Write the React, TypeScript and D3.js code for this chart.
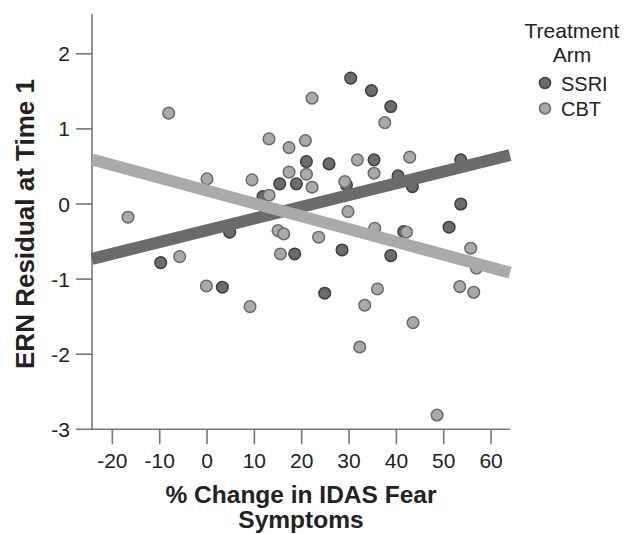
import React from "react";
import * as d3 from "d3";

// ---- data ----
const ssriX = [30.35, 34.73, 38.81, 20.99, 25.77, 35.28, 53.6, 40.35, 43.39, 29.45, 15.35, 18.88, 11.82, 53.6, 4.79, -9.79, 18.52, 3.24, 51.13, 41.55, 28.52, 38.81, 24.86];
const ssriY = [1.676, 1.511, 1.298, 0.565, 0.534, 0.588, 0.588, 0.374, 0.232, 0.254, 0.268, 0.268, 0.099, 0.0, -0.376, -0.781, -0.665, -1.108, -0.309, -0.368, -0.612, -0.687, -1.188];

const cbtX = [-8.1, 13.09, 17.32, 20.78, 22.18, 37.54, -0.01, 9.5, 17.32, 20.99, 22.18, 13.09, -16.7, 14.99, 16.2, -5.78, 15.5, -0.14, 9.08, 31.77, 35.28, 42.82, 29.09, 29.78, 35.43, 42.12, 23.59, 55.71, 56.92, 53.39, 56.34, 36.0, 33.31, 43.52, 32.26, 48.59];
const cbtY = [1.21, 0.867, 0.751, 0.845, 1.41, 1.084, 0.334, 0.321, 0.424, 0.397, 0.224, 0.117, -0.176, -0.354, -0.398, -0.701, -0.665, -1.091, -1.367, 0.588, 0.41, 0.624, 0.298, -0.101, -0.322, -0.376, -0.442, -0.589, -0.855, -1.1, -1.175, -1.131, -1.348, -1.58, -1.904, -2.81];

// fitted lines: [intercept, slope]
const ssriFit = [-0.35, 0.01563];
const cbtFit = [0.178, -0.01706];

const xTicks = [-20, -10, 0, 10, 20, 30, 40, 50, 60];
const yTicks = [-3, -2, -1, 0, 1, 2];
const xExtent = [-24.3, 64];
const yExtent = [-3, 2.53];

const seriesNames = ["SSRI", "CBT"];
const legendTitle = ["Treatment", "Arm"];
const xTitle = ["% Change in IDAS Fear", "Symptoms"];
const yTitle = "ERN Residual at Time 1";

const FONT = "'Liberation Sans', Arial, Helvetica, sans-serif";
const SSRI_FILL = "#6c6c6c";
const SSRI_STROKE = "#3e3e3e";
const CBT_FILL = "#a9a9a9";
const CBT_STROKE = "#6a6a6a";
const SSRI_LINE = "#6b6b6b";
const CBT_LINE = "#aaaaaa";
const AXIS = "#777777";
const TEXT = "#222222";

export default function App() {
  const x = d3.scaleLinear().domain(xExtent).range([92, 510]);
  const y = d3.scaleLinear().domain(yExtent).range([429.3, 14]);
  const x0 = x.range()[0];
  const y0 = y.range()[0];

  const fitLine = (fit: number[]) => {
    const pts: [number, number][] = xExtent.map((v) => [x(v), y(fit[0] + fit[1] * v)]);
    return d3.line()(pts) as string;
  };

  const ssri = ssriX.map((v, i) => ({ x: v, y: ssriY[i] }));
  const cbt = cbtX.map((v, i) => ({ x: v, y: cbtY[i] }));

  return (
    <svg
      width={633}
      height={534}
      style={{ position: "fixed", left: 0, top: 0, background: "#fff" }}
      fontFamily={FONT}
    >
      <rect width={633} height={534} fill="#fff" />
      {/* axes */}
      <line x1={x0} x2={x0} y1={y.range()[1]} y2={y0} stroke={AXIS} strokeWidth={1.6} />
      <line x1={x0} x2={x.range()[1]} y1={y0} y2={y0} stroke={AXIS} strokeWidth={1.6} />
      {yTicks.map((t) => (
        <g key={"y" + t}>
          <line x1={x0 - 16} x2={x0} y1={y(t)} y2={y(t)} stroke={AXIS} strokeWidth={1.6} />
          <text x={70} y={y(t) + 7.5} textAnchor="end" fontSize={21} fill={TEXT}>
            {t}
          </text>
        </g>
      ))}
      {xTicks.map((t) => (
        <g key={"x" + t}>
          <line x1={x(t)} x2={x(t)} y1={y0} y2={y0 + 15} stroke={AXIS} strokeWidth={1.6} />
          <text x={x(t)} y={468} textAnchor="middle" fontSize={21} fill={TEXT}>
            {t}
          </text>
        </g>
      ))}

      {/* points */}
      {ssri.map((d, i) => (
        <circle key={"s" + i} cx={x(d.x)} cy={y(d.y)} r={5.8} fill={SSRI_FILL} stroke={SSRI_STROKE} strokeWidth={1.5} />
      ))}
      {cbt.map((d, i) => (
        <circle key={"c" + i} cx={x(d.x)} cy={y(d.y)} r={5.8} fill={CBT_FILL} stroke={CBT_STROKE} strokeWidth={1.5} />
      ))}

      {/* fit lines */}
      <path d={fitLine(ssriFit)} stroke={SSRI_LINE} strokeWidth={12} fill="none" />
      <path d={fitLine(cbtFit)} stroke={CBT_LINE} strokeWidth={12} fill="none" />

      {/* axis titles */}
      <text x={301} y={503} textAnchor="middle" fontSize={24.5} fontWeight="bold" fill={TEXT}>
        {xTitle[0]}
      </text>
      <text x={301} y={528} textAnchor="middle" fontSize={24.5} fontWeight="bold" fill={TEXT}>
        {xTitle[1]}
      </text>
      <text
        transform="translate(34,224) rotate(-90)"
        textAnchor="middle"
        fontSize={26}
        fontWeight="bold"
        fill={TEXT}
      >
        {yTitle}
      </text>

      {/* legend */}
      <text x={572} y={38} textAnchor="middle" fontSize={21} fill={TEXT}>
        {legendTitle[0]}
      </text>
      <text x={572} y={62} textAnchor="middle" fontSize={21} fill={TEXT}>
        {legendTitle[1]}
      </text>
      {seriesNames.map((n, i) => (
        <g key={n}>
          <circle
            cx={545}
            cy={83 + i * 25.5}
            r={5.5}
            fill={i === 0 ? SSRI_FILL : CBT_FILL}
            stroke={i === 0 ? SSRI_STROKE : CBT_STROKE}
            strokeWidth={1.5}
          />
          <text x={561} y={90.5 + i * 25.5} fontSize={20} fill={TEXT}>
            {n}
          </text>
        </g>
      ))}
    </svg>
  );
}
